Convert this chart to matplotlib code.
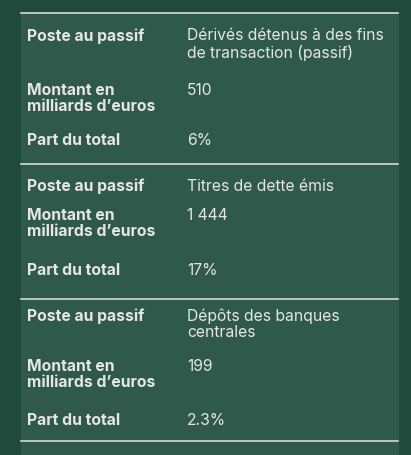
import matplotlib.pyplot as plt
from matplotlib.patches import Rectangle

# Données
postes = ["Dérivés détenus à des fins\nde transaction (passif)",
          "Titres de dette émis",
          "Dépôts des banques\ncentrales"]
montants = ["510", "1 444", "199"]
parts = ["6%", "17%", "2.3%"]
labels = ["Poste au passif", "Montant en\nmilliards d’euros", "Part du total"]

W, H = 411, 455
BG = "#1f4a3c"
PANEL = "#2f594b"
TXT = "#e6e6e6"

fig = plt.figure(figsize=(W / 100, H / 100), dpi=100, facecolor=BG)
ax = fig.add_axes([0, 0, 1, 1])
ax.set_xlim(0, W)
ax.set_ylim(H, 0)
ax.axis("off")

ax.add_patch(Rectangle((21, 13), 377, H - 13, color=PANEL, zorder=0))

block_top = [13, 164, 299]
row_off = [[15, 70, 120], [15, 44, 99], [9, 60, 114]]
lines_y = [13, 164, 299, 441]
for y in lines_y:
    ax.plot([21, 398], [y, y], color="#d8d8d8", lw=1.2)

font = dict(family=["Inter", "DejaVu Sans"], fontsize=11.3, color=TXT,
            va="top", linespacing=1.12)
for i, top in enumerate(block_top):
    vals = [postes[i], montants[i], parts[i]]
    for j in range(3):
        y = top + row_off[i][j]
        ax.text(27, y, labels[j], fontweight="bold", **font)
        ax.text(187, y, vals[j], **font)

fig.savefig("out.png", dpi=100, facecolor=BG)
